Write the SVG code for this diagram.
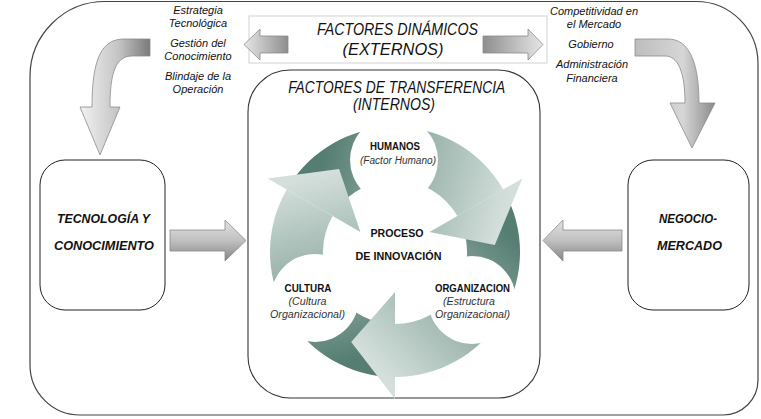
<svg xmlns="http://www.w3.org/2000/svg" width="761" height="419" viewBox="0 0 761 419">
<style>
text{font-family:"Liberation Sans",Arial,sans-serif;fill:#111;text-anchor:middle}
.frame{fill:#fff;stroke:#444;stroke-width:1.2}
.inner{fill:#fff;stroke:#333;stroke-width:1.1}
.dbox{fill:#fff;stroke:#d2d2d2;stroke-width:1}
.node{fill:#fff;stroke:#222;stroke-width:1}
.ga{stroke:#8c8c8c;stroke-width:0.8}
.ttl{font-style:italic;font-size:16px}
.lbl{font-style:italic;font-size:11px}
.box{font-style:italic;font-weight:bold;font-size:13px}
.nd{font-weight:bold;font-size:10px}
.pr{font-weight:bold;font-size:11px}
.sub{font-style:italic;font-size:10px;fill:#333}
.wc{fill:#fff}
</style>
<defs>
<linearGradient id="gV" x1="0" y1="0" x2="0" y2="1">
<stop offset="0" stop-color="#e2e2e2"/><stop offset="0.5" stop-color="#c0c0c0"/><stop offset="1" stop-color="#858585"/>
</linearGradient>
<linearGradient id="gL" x1="0" y1="0" x2="1" y2="0">
<stop offset="0" stop-color="#f2f2f2"/><stop offset="0.55" stop-color="#c4c4c4"/><stop offset="1" stop-color="#7a7a7a"/>
</linearGradient>
<linearGradient id="gR" x1="0" y1="0" x2="1" y2="0">
<stop offset="0" stop-color="#bdbdbd"/><stop offset="0.6" stop-color="#d6d6d6"/><stop offset="1" stop-color="#8a8a8a"/>
</linearGradient>
<linearGradient id="gBoxL" x1="0" y1="0" x2="1" y2="0">
<stop offset="0" stop-color="#e6e6e6"/><stop offset="1" stop-color="#8e8e8e"/>
</linearGradient>
<linearGradient id="gBoxR" x1="0" y1="0" x2="1" y2="0">
<stop offset="0" stop-color="#8e8e8e"/><stop offset="1" stop-color="#e6e6e6"/>
</linearGradient>
<linearGradient id="cA" gradientUnits="userSpaceOnUse" x1="313" y1="194.6" x2="494.8" y2="245">
<stop offset="0" stop-color="#557d72"/><stop offset="0.5" stop-color="#98b2aa"/><stop offset="1" stop-color="#d4dfdb"/>
</linearGradient>
<linearGradient id="cB" gradientUnits="userSpaceOnUse" x1="485.6" y1="209.7" x2="351.2" y2="341.9">
<stop offset="0" stop-color="#557d72"/><stop offset="0.5" stop-color="#98b2aa"/><stop offset="1" stop-color="#d4dfdb"/>
</linearGradient>
<linearGradient id="cC" gradientUnits="userSpaceOnUse" x1="386.3" y1="351.6" x2="339.1" y2="169.1">
<stop offset="0" stop-color="#557d72"/><stop offset="0.5" stop-color="#98b2aa"/><stop offset="1" stop-color="#d4dfdb"/>
</linearGradient>
</defs>

<g id="outer-frame">
<path class="frame" d="M105,1.5 H696 A62,62 0 0 1 758,63.5 V380 A35,35 0 0 1 723,415 H80 A50,50 0 0 1 30,365 V76.5 A75,75 0 0 1 105,1.5 Z"/>
</g>

<g id="factores-transferencia">
<rect class="inner" x="248" y="70" width="292" height="328" rx="42" ry="42"/>
<text class="ttl" x="396.7" y="93" font-size="15" textLength="217" lengthAdjust="spacingAndGlyphs">FACTORES DE TRANSFERENCIA</text>
<text class="ttl" x="394" y="110" font-size="15" textLength="82" lengthAdjust="spacingAndGlyphs">(INTERNOS)</text>
</g>

<g id="factores-dinamicos">
<rect class="dbox" x="249" y="16" width="298" height="47"/>
<text class="ttl" x="397.5" y="35" textLength="161" lengthAdjust="spacingAndGlyphs">FACTORES DINÁMICOS</text>
<text class="ttl" x="393" y="55" textLength="101" lengthAdjust="spacingAndGlyphs">(EXTERNOS)</text>
</g>

<g id="tecnologia">
<rect class="node" x="40" y="160" width="125" height="150" rx="25" ry="25"/>
<text class="box" x="103.5" y="223" textLength="93" lengthAdjust="spacingAndGlyphs">TECNOLOGÍA Y</text>
<text class="box" x="104" y="250" textLength="100" lengthAdjust="spacingAndGlyphs">CONOCIMIENTO</text>
</g>

<g id="negocio">
<rect class="node" x="628" y="160" width="121" height="150" rx="25" ry="25"/>
<text class="box" x="688" y="223" textLength="58" lengthAdjust="spacingAndGlyphs">NEGOCIO-</text>
<text class="box" x="689.5" y="250" textLength="65" lengthAdjust="spacingAndGlyphs">MERCADO</text>
</g>

<g id="labels-tecnologicos">
<text class="lbl" x="198" y="14">Estrategia</text>
<text class="lbl" x="198" y="27">Tecnológica</text>
<text class="lbl" x="198" y="47">Gestión del</text>
<text class="lbl" x="198" y="60">Conocimiento</text>
<text class="lbl" x="198" y="80">Blindaje de la</text>
<text class="lbl" x="198" y="93">Operación</text>
</g>

<g id="labels-mercado">
<text class="lbl" x="594" y="15">Competitividad en</text>
<text class="lbl" x="594" y="28">el Mercado</text>
<text class="lbl" x="591" y="48">Gobierno</text>
<text class="lbl" x="592" y="68">Administración</text>
<text class="lbl" x="592" y="82">Financiera</text>
</g>

<g id="connectors">
<path class="ga" fill="url(#gBoxL)" d="M244,44.5 L260,29 L260,36 L288,36 L288,53 L260,53 L260,60 Z"/>
<path class="ga" fill="url(#gBoxR)" d="M543,44.5 L528,29 L528,36 L483,36 L483,53 L528,53 L528,60 Z"/>
<path class="ga" fill="url(#gL)" d="M150,39 L124,39 C102,39 92,58 92,107 L80,107 L100,155 L120,107 L110,107 C110,72 116,56 132,56 L150,56 Z"/>
<path class="ga" fill="url(#gR)" d="M635,39 L668,39 C688,39 699,60 699,103 L715,103 L692,148 L670,103 L685,103 C685,72 678,56 665,56 L635,56 Z"/>
<path class="ga" fill="url(#gV)" d="M170,230 L225,230 L225,220 L246,240.5 L225,261 L225,251 L170,251 Z"/>
<path class="ga" fill="url(#gV)" d="M622,230 L563,230 L563,220 L543,240.5 L563,261 L563,251 L622,251 Z"/>
</g>

<g id="ciclo">
<path fill="url(#cA)" d="M292.6,180.3 A125,125 0 0 1 503.3,189.5 L457.4,216 A72,72 0 0 0 336,210.7 Z"/>
<path fill="url(#cB)" d="M508.3,199.2 A125,125 0 0 1 395,377 L395,324 A72,72 0 0 0 460.3,221.6 Z"/>
<path fill="url(#cC)" d="M384.1,376.5 A125,125 0 0 1 286.75,189.5 L332.65,216 A72,72 0 0 0 388.7,323.7 Z"/>
<circle class="wc" cx="394" cy="160" r="44"/>
<circle class="wc" cx="472" cy="300" r="44"/>
<circle class="wc" cx="315" cy="298" r="44"/>
<polygon fill="url(#cA)" points="522.3,178.5 494.8,245 429.6,232"/>
<polygon fill="url(#cB)" points="395,399 351.2,341.9 395,292"/>
<polygon fill="url(#cC)" points="267.7,178.5 339.1,169.1 360.4,232"/>
</g>

<g id="humanos">
<text class="nd" x="395" y="150" textLength="50" lengthAdjust="spacingAndGlyphs">HUMANOS</text>
<text class="sub" x="398" y="164" textLength="76" lengthAdjust="spacingAndGlyphs">(Factor Humano)</text>
</g>
<g id="proceso">
<text class="pr" x="397" y="237" textLength="53" lengthAdjust="spacingAndGlyphs">PROCESO</text>
<text class="pr" x="398.5" y="260" textLength="86" lengthAdjust="spacingAndGlyphs">DE INNOVACIÓN</text>
</g>
<g id="cultura">
<text class="nd" x="308" y="292" textLength="47" lengthAdjust="spacingAndGlyphs">CULTURA</text>
<text class="sub" x="307.5" y="305" textLength="38" lengthAdjust="spacingAndGlyphs">(Cultura</text>
<text class="sub" x="307.5" y="318" textLength="75" lengthAdjust="spacingAndGlyphs">Organizacional)</text>
</g>
<g id="organizacion">
<text class="nd" x="472.5" y="292" textLength="75" lengthAdjust="spacingAndGlyphs">ORGANIZACION</text>
<text class="sub" x="469" y="305" textLength="52" lengthAdjust="spacingAndGlyphs">(Estructura</text>
<text class="sub" x="472.5" y="318" textLength="75" lengthAdjust="spacingAndGlyphs">Organizacional)</text>
</g>
</svg>
